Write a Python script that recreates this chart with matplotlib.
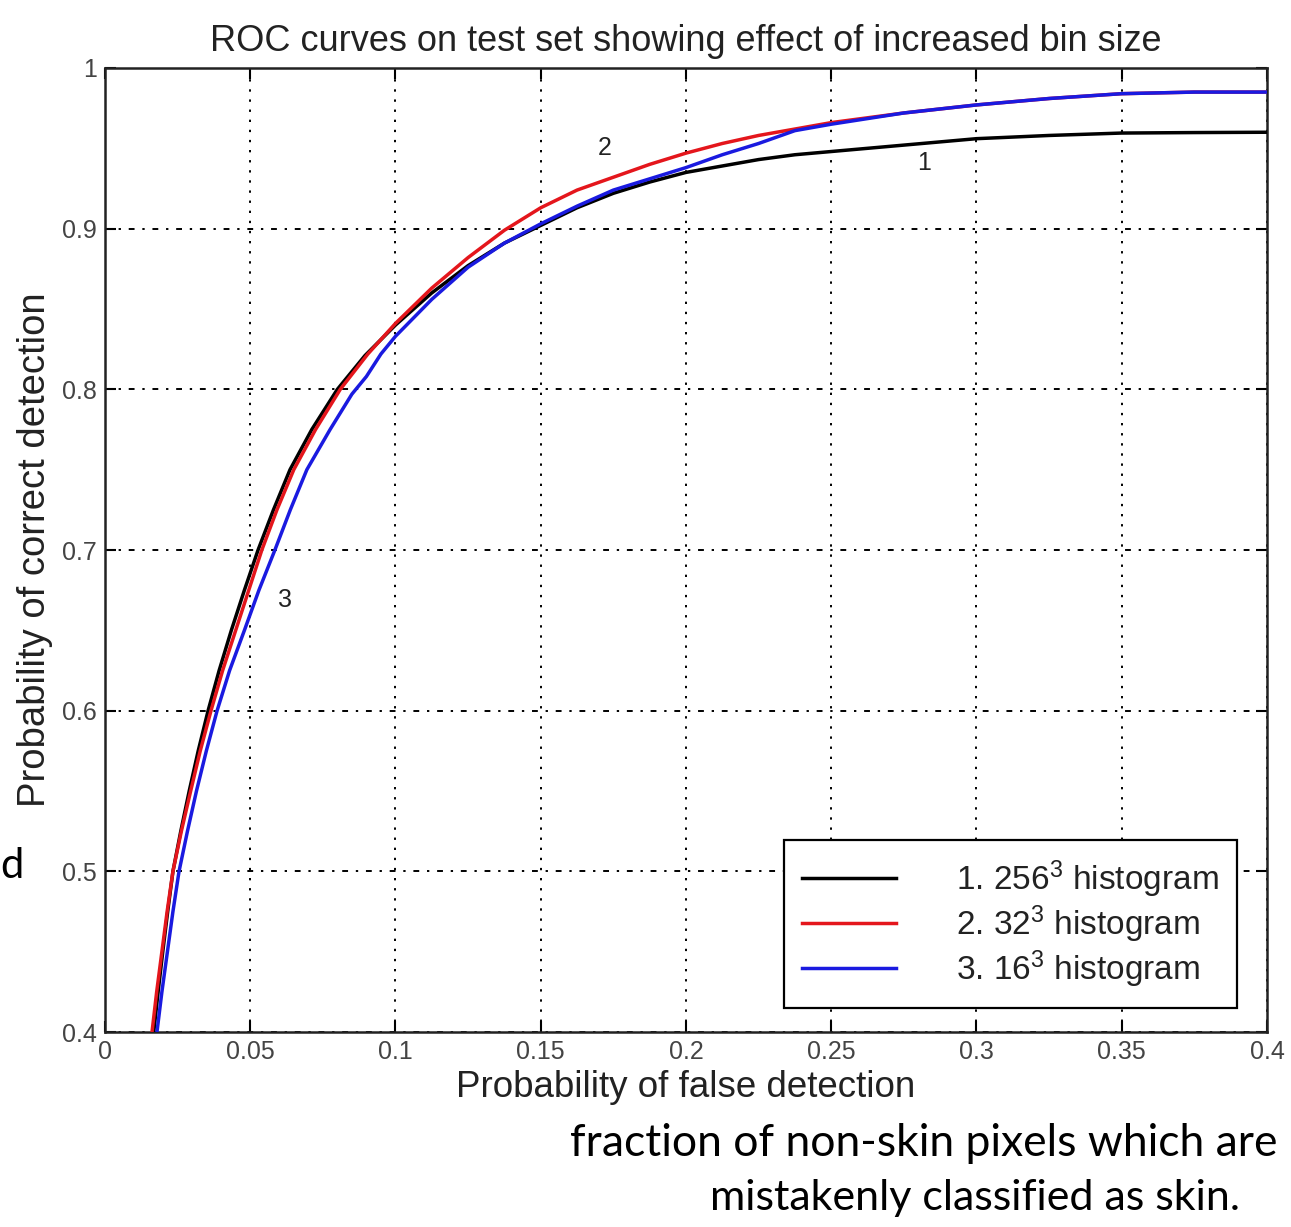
import numpy as np
import matplotlib
matplotlib.use('Agg')
import matplotlib.pyplot as plt

plt.rcParams['font.family'] = ['Liberation Sans', 'DejaVu Sans']
plt.rcParams['mathtext.fontset'] = 'custom'
plt.rcParams['mathtext.rm'] = 'Liberation Sans'
plt.rcParams['mathtext.it'] = 'Liberation Sans'

# ROC curves
x_256 = [0.0168, 0.0183, 0.0199, 0.0216, 0.0234, 0.0261, 0.029, 0.0321, 0.0355, 0.0393,
         0.0435, 0.048, 0.0527, 0.058, 0.0637, 0.0712, 0.080, 0.0895, 0.10, 0.1125,
         0.125, 0.1375, 0.15, 0.1625, 0.175, 0.1875, 0.20, 0.2125, 0.225, 0.2375,
         0.25, 0.275, 0.30, 0.325, 0.35, 0.375, 0.40]
y_256 = [0.40, 0.425, 0.45, 0.475, 0.50, 0.525, 0.55, 0.575, 0.60, 0.625,
         0.65, 0.675, 0.70, 0.725, 0.75, 0.775, 0.80, 0.821, 0.840, 0.860,
         0.877, 0.891, 0.902, 0.913, 0.922, 0.929, 0.935, 0.939, 0.943, 0.946,
         0.948, 0.952, 0.956, 0.958, 0.9595, 0.9598, 0.960]

x_32 = [0.0162, 0.0178, 0.0196, 0.0214, 0.0234, 0.0263, 0.0295, 0.0328, 0.0365, 0.0405,
        0.045, 0.0495, 0.054, 0.0592, 0.065, 0.0725, 0.081, 0.0905, 0.10, 0.1125,
        0.125, 0.1375, 0.15, 0.1625, 0.175, 0.1875, 0.20, 0.2125, 0.225, 0.2375,
        0.25, 0.275, 0.30, 0.325, 0.35, 0.375, 0.40]
y_32 = [0.40, 0.425, 0.45, 0.475, 0.50, 0.525, 0.55, 0.575, 0.60, 0.625,
        0.65, 0.675, 0.70, 0.725, 0.75, 0.775, 0.80, 0.822, 0.841, 0.863,
        0.882, 0.899, 0.913, 0.924, 0.932, 0.940, 0.947, 0.953, 0.958, 0.962,
        0.966, 0.972, 0.977, 0.981, 0.984, 0.985, 0.985]

x_16 = [0.0179, 0.0196, 0.0215, 0.0234, 0.0255, 0.0284, 0.0315, 0.0349, 0.0386, 0.0429,
        0.048, 0.053, 0.0585, 0.0638, 0.0695, 0.0775, 0.085, 0.090, 0.095, 0.10,
        0.1125, 0.125, 0.1375, 0.15, 0.1625, 0.175, 0.1875, 0.20, 0.2125, 0.225,
        0.2375, 0.25, 0.275, 0.30, 0.325, 0.35, 0.375, 0.40]
y_16 = [0.40, 0.425, 0.45, 0.475, 0.50, 0.525, 0.55, 0.575, 0.60, 0.625,
        0.65, 0.675, 0.70, 0.725, 0.75, 0.775, 0.797, 0.808, 0.822, 0.833,
        0.856, 0.876, 0.891, 0.903, 0.914, 0.924, 0.931, 0.938, 0.946, 0.953,
        0.961, 0.965, 0.972, 0.977, 0.981, 0.984, 0.985, 0.985]

labels = ['1. 256$^3$ histogram', '2. 32$^3$ histogram', '3. 16$^3$ histogram']
colors = ['black', '#e4161c', '#1a1ae0']

xticks = [0, 0.05, 0.1, 0.15, 0.2, 0.25, 0.3, 0.35, 0.4]
xticklabels = ['0', '0.05', '0.1', '0.15', '0.2', '0.25', '0.3', '0.35', '0.4']
yticks = [0.4, 0.5, 0.6, 0.7, 0.8, 0.9, 1.0]
yticklabels = ['0.4', '0.5', '0.6', '0.7', '0.8', '0.9', '1']

fig = plt.figure(figsize=(12.91, 12.27), dpi=100)
ax = fig.add_axes([0.0813, 0.1589, 0.9001, 0.7857])

ax.plot(x_256, y_256, color=colors[0], lw=2.5, label=labels[0], zorder=3,
        solid_joinstyle='round')
ax.plot(x_16, y_16, color=colors[2], lw=2.5, label=labels[2], zorder=4,
        solid_joinstyle='round')
ax.plot(x_32, y_32, color=colors[1], lw=2.5, label=labels[1], zorder=3.5,
        solid_joinstyle='round')

ax.set_xlim(0, 0.4)
ax.set_ylim(0.4, 1.0)
ax.set_xticks(xticks)
ax.set_xticklabels(xticklabels)
ax.set_yticks(yticks)
ax.set_yticklabels(yticklabels)
ax.tick_params(direction='in', length=8, width=1.5, top=True, right=True,
               labelsize=18, labelcolor='#444444', pad=6)
for s in ax.spines.values():
    s.set_linewidth(1.8)
    s.set_color('#222222')

ax.grid(axis='x', color='black', linestyle=(0, (1.2, 4)), linewidth=1.4)
ax.grid(axis='y', color='black', linestyle=(0, (3, 4, 1.2, 4)), linewidth=1.4)
ax.set_axisbelow(True)

ax.set_title('ROC curves on test set showing effect of increased bin size',
             fontsize=26, color='#222222', pad=12)
ax.set_xlabel('Probability of false detection', fontsize=26.5, color='#222222', labelpad=4)
ax.set_ylabel('Probability of correct detection', fontsize=27.5, color='#222222', labelpad=6)

# curve labels
ax.text(0.062, 0.669, '3', fontsize=18, color='#222222', ha='center', va='center')
ax.text(0.172, 0.950, '2', fontsize=18, color='#222222', ha='center', va='center')
ax.text(0.282, 0.941, '1', fontsize=18, color='#222222', ha='center', va='center')

h, l = ax.get_legend_handles_labels()
order = [0, 2, 1]
leg = ax.legend([h[i] for i in order], [l[i] for i in order],
                loc='lower right', bbox_to_anchor=(0.974, 0.025),
                fontsize=24, frameon=True, fancybox=False, framealpha=1,
                edgecolor='black', handlelength=2.8, handletextpad=1.8,
                borderpad=0.55, labelspacing=0.1, borderaxespad=0)
leg.get_frame().set_linewidth(1.6)
for t in leg.get_texts():
    t.set_color('#222222')

fig.text(0.0, 1 - 866 / 1227, 'd', fontsize=30, family=['Lato', 'DejaVu Sans'],
         ha='left', va='center')
fig.text(1278 / 1291, 1 - 1143 / 1227, 'fraction of non-skin pixels which are',
         fontsize=32, family=['Lato', 'DejaVu Sans'], ha='right', va='center')
fig.text(1240 / 1291, 1 - 1198 / 1227, 'mistakenly classified as skin.',
         fontsize=31, family=['Lato', 'DejaVu Sans'], ha='right', va='center')

fig.savefig('out.png', dpi=100)
